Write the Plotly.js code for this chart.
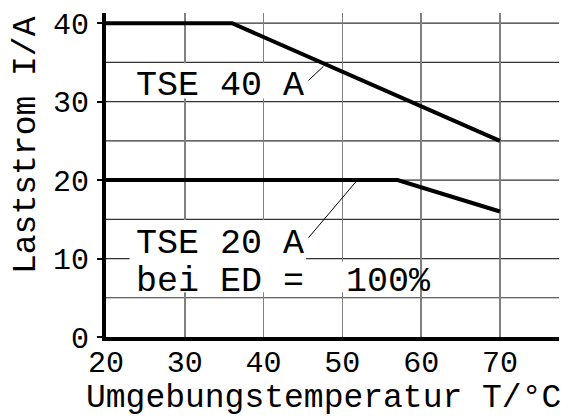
<!DOCTYPE html>
<html>
<head>
<meta charset="utf-8">
<script src="https://cdn.plot.ly/plotly-3.0.1.min.js"></script>
<style>html,body{margin:0;padding:0;background:#fff}#chart{width:588px;height:419px}</style>
</head>
<body>
<div id="chart"></div>
<script>
// Data
const tempTSE40 = [20, 36, 70];
const currTSE40 = [40, 40, 25];
const tempTSE20 = [20, 57, 70];
const currTSE20 = [20, 20, 16];
const xTickVals = [20, 30, 40, 50, 60, 70];
const xTickText = ['20', '30', '40', '50', '60', '70'];
const yTickVals = [0, 10, 20, 30, 40];
const yTickText = ['0', '10', '20', '30', '40'];
const yGridVals = [5, 10, 15, 20, 25, 30, 35, 40];
const labelTSE40 = 'TSE 40 A';
const labelTSE20 = 'TSE 20 A';
const labelED = 'bei ED =\u00a0\u00a0100%';
const xTitle = 'Umgebungstemperatur T/°C';
const yTitle = 'Laststrom I/A';

const FONT = '"Courier New", "Nimbus Mono PS", "Nimbus Mono L", FreeMono, Courier, "Liberation Mono", monospace';

const traces = [
  {x: tempTSE40, y: currTSE40, mode: 'lines', line: {color: '#000', width: 4}, hoverinfo: 'skip'},
  {x: tempTSE20, y: currTSE20, mode: 'lines', line: {color: '#000', width: 4}, hoverinfo: 'skip'}
];

const shapes = [];
// white backgrounds behind the labels (cover vertical grid only)
shapes.push({type: 'rect', layer: 'between', xref: 'x', yref: 'y', x0: 23, x1: 45.4, y0: 30.4, y1: 34.9, fillcolor: '#fff', line: {width: 0}});
shapes.push({type: 'rect', layer: 'between', xref: 'x', yref: 'y', x0: 23, x1: 45.4, y0: 9.5, y1: 14.9, fillcolor: '#fff', line: {width: 0}});
shapes.push({type: 'rect', layer: 'between', xref: 'x', yref: 'y', x0: 23, x1: 58.8, y0: 5.7, y1: 9.6, fillcolor: '#fff', line: {width: 0}});
// horizontal grid lines
yGridVals.forEach(v => shapes.push({type: 'line', layer: 'between', xref: 'paper', yref: 'y', x0: 0, x1: 1, y0: v, y1: v, line: {color: '#333', width: 1.2}}));
// leader lines
shapes.push({type: 'line', layer: 'above', xref: 'x', yref: 'y', x0: 45.7, y0: 32.7, x1: 47.6, y1: 34.5, line: {color: '#000', width: 1}});
shapes.push({type: 'line', layer: 'above', xref: 'x', yref: 'y', x0: 45.7, y0: 12.65, x1: 51.9, y1: 20, line: {color: '#000', width: 1}});

const annFont = {family: FONT, size: 35, color: '#000'};
const titleFont = {family: FONT, size: 33, color: '#000'};
const tickFont = {family: FONT, size: 30, color: '#000'};
const annotations = [
  {x: 23.5, y: 32.0, xref: 'x', yref: 'y', text: labelTSE40, showarrow: false, xanchor: 'left', yanchor: 'middle', font: annFont},
  {x: 23.5, y: 11.8, xref: 'x', yref: 'y', text: labelTSE20, showarrow: false, xanchor: 'left', yanchor: 'middle', font: annFont},
  {x: 23.5, y: 7.0, xref: 'x', yref: 'y', text: labelED, showarrow: false, xanchor: 'left', yanchor: 'middle', font: annFont},
  {x: 0.481, y: -0.19, xref: 'paper', yref: 'paper', text: xTitle, showarrow: false, xanchor: 'center', yanchor: 'middle', font: titleFont},
  {x: -0.1744, y: 0.5926, xref: 'paper', yref: 'paper', text: yTitle, showarrow: false, xanchor: 'center', yanchor: 'middle', textangle: -90, font: titleFont}
];

const layout = {
  width: 588, height: 419,
  margin: {l: 106, r: 29, t: 13, b: 82},
  paper_bgcolor: '#fff', plot_bgcolor: '#fff',
  showlegend: false,
  xaxis: {
    range: [20, 77.5], tickvals: xTickVals, ticktext: xTickText,
    showgrid: true, gridcolor: '#808080', gridwidth: 1.5,
    zeroline: false, showline: true, linecolor: '#000', linewidth: 4,
    ticks: '', ticklabelstandoff: -5, tickfont: tickFont
  },
  yaxis: {
    range: [0, 41.3], tickvals: yTickVals, ticktext: yTickText,
    showgrid: false, zeroline: false, showline: true, linecolor: '#000', linewidth: 4,
    ticks: 'outside', ticklen: 5, tickwidth: 2, tickcolor: '#000',
    ticklabelstandoff: 2, tickfont: tickFont
  },
  shapes: shapes,
  annotations: annotations
};

Plotly.newPlot('chart', traces, layout, {staticPlot: true, displayModeBar: false});
</script>
</body>
</html>
